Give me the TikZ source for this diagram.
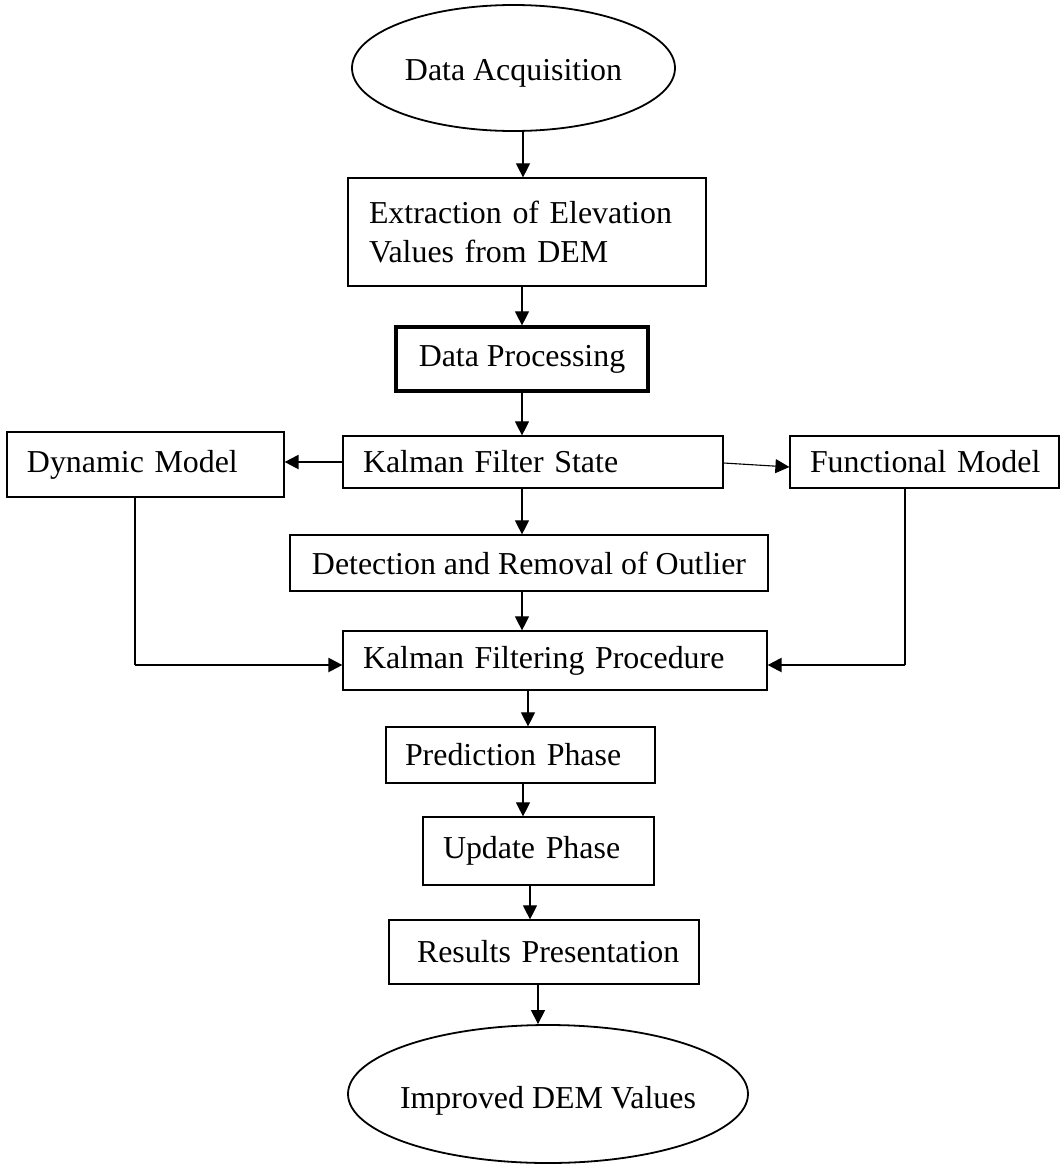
\documentclass[tikz,border=0pt]{standalone}
\usepackage{fontspec}
\setmainfont{Liberation Serif}
\usetikzlibrary{arrows.meta,shapes.geometric}
\begin{document}
\begin{tikzpicture}[x=1pt,y=-1pt,
  txt/.style={font=\fontsize{31.9pt}{39pt}\selectfont},
  box/.style={draw, line width=1.2pt, rectangle, inner ysep=0pt, txt},
  lbox/.style 2 args={box, minimum width=#1, minimum height=#2, inner xsep=0pt, text width=#1, align=left},
  cbox/.style 2 args={box, minimum width=#1, minimum height=#2, inner xsep=0pt, align=center},
  ell/.style={draw, line width=1.8pt, ellipse, inner sep=0pt},
  arr/.style={line width=1.1pt, -{Triangle[length=14pt,width=14pt]}},
  tarr/.style={line width=2.2pt, -{Triangle[length=14pt,width=14pt]}}
]
\useasboundingbox (0,0) rectangle (1061,1165);

% nodes
\node[ell, minimum width=323, minimum height=126,
      label={[txt, yshift=-5pt]center:Data Acquisition}] (top) at (513.5,68) {};
\node[lbox={358}{108}] (ext) at (527,232) {\hspace*{21pt}Extraction of Elevation\\\hspace*{21pt}Values from DEM};
\node[cbox={252}{64}, line width=3.2pt] (dp) at (522,359) {Data Processing};
\node[lbox={380}{52}] (kfs) at (533,462) {\hspace*{20pt}Kalman Filter State};
\node[lbox={277}{65}] (dyn) at (145.5,464.5) {\hspace*{20pt}Dynamic Model};
\node[lbox={269}{52}] (fun) at (924.5,462) {\hspace*{20pt}Functional Model};
\node[cbox={478}{56}] (det) at (529,563) {Detection and Removal of Outlier};
\node[lbox={424}{59}] (kfp) at (555,660.5) {\hspace*{20pt}Kalman Filtering Procedure};
\node[lbox={269}{56}] (pred) at (520.5,755) {\hspace*{19pt}Prediction Phase};
\node[lbox={231}{68}] (upd) at (538.5,851) {\hspace*{20pt}Update Phase};
\node[lbox={310}{64}] (res) at (544,952) {\hspace*{28pt}Results Presentation};
\node[ell, minimum width=400, minimum height=138,
      label={[txt, yshift=-7pt]center:Improved DEM Values}] (fin) at (548,1094) {};

% column coordinates
\coordinate (c1) at (523,0);
\coordinate (c2) at (522,0);
\coordinate (c3) at (528,0);
\coordinate (c4) at (523,0);
\coordinate (c5) at (530,0);
\coordinate (c6) at (538,0);
\coordinate (cd) at (135,0);
\coordinate (cf) at (905,0);

% connectors
\draw[arr] (top.south -| c1) -- (ext.north -| c1);
\draw[arr] (ext.south -| c2) -- (dp.north -| c2);
\draw[arr] (dp.south -| c2) -- (kfs.north -| c2);
\draw[arr] (kfs.south -| c2) -- (det.north -| c2);
\draw[arr] (det.south -| c2) -- (kfp.north -| c2);
\draw[tarr] (kfs.west) -- (kfs.west -| dyn.east);
\draw[arr] ([yshift=-1pt]kfs.east) -- ([yshift=-5pt]fun.west);
\draw[line width=1.1pt] (dyn.south -| cd) -- ([yshift=-4.5pt]kfp.west -| cd);
\draw[tarr] ([yshift=-4.5pt]kfp.west -| cd) -- ([yshift=-4.5pt]kfp.west);
\draw[line width=1.1pt] (fun.south -| cf) -- ([yshift=-4.5pt]kfp.east -| cf);
\draw[tarr] ([yshift=-4.5pt]kfp.east -| cf) -- ([yshift=-4.5pt]kfp.east);
\draw[arr] (kfp.south -| c3) -- (pred.north -| c3);
\draw[arr] (pred.south -| c4) -- (upd.north -| c4);
\draw[arr] (upd.south -| c5) -- (res.north -| c5);
\draw[arr] (res.south -| c6) -- (fin.north -| c6);
\end{tikzpicture}
\end{document}
